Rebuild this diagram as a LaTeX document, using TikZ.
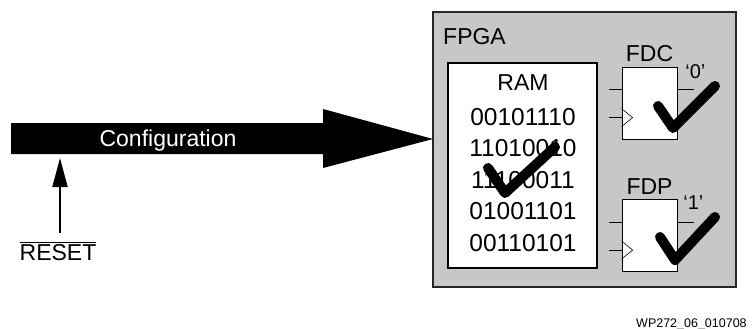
\documentclass[tikz,border=0pt]{standalone}
\usepackage{fontspec}
\setmainfont{Liberation Sans}
\usetikzlibrary{arrows.meta,positioning}

\begin{document}
\begin{tikzpicture}[x=1pt,y=-1pt]
    \tikzstyle{every node}=[font=\fontsize{23}{27}\selectfont, inner sep=0pt]
    \tikzstyle{flipflop}=[draw, fill=white, line width=0.8pt, minimum width=55pt, minimum height=72pt]
    \tikzstyle{pin}=[line width=0.6pt]
    \tikzstyle{tick}=[line width=10pt, line cap=round, line join=round]
    \tikzstyle{quote}=[font=\fontsize{20}{24}\selectfont]
    \useasboundingbox (0,0) rectangle (752,329);

    % FPGA and RAM
    \node[draw=black!85, fill=black!22, line width=2pt, minimum width=303pt, minimum height=275pt] (fpga) at (584.5,149.5) {};
    \node[anchor=west] (fpgalbl) at (443,37) {FPGA};
    \node[draw, fill=white, line width=2pt, minimum width=149pt, minimum height=205pt] (ram) at (522.5,165.5) {};
    \node (ramlbl) at (523,83) {RAM};
    \foreach \bits [count=\i] in {00101110,11010010,11100011,01001101,00110101}
        \node (bits\i) at (523,85.5+31.5*\i) {\fontsize{24.5}{28}\selectfont\bits};

    % flip-flops
    \node[flipflop] (fdc) at (649.5,103) {};
    \node[flipflop] (fdp) at (649.5,235.5) {};
    \foreach \ff in {fdc,fdp} {
        \draw[pin] ([yshift=-23pt]\ff.north west) -- ++(-13,0);
        \draw[pin] ([yshift=-51pt]\ff.north west) -- ++(-13,0);
        \draw[pin] ([yshift=-23pt]\ff.north east) -- ++(17,0);
        \draw[pin] ([yshift=-42pt]\ff.north west) -- ++(11,9) -- ++(-11,9);
    }
    \node[above=5pt of fdc] (fdclbl) {FDC};
    \node[above=4pt of fdp] (fdplbl) {FDP};
    \node[quote] (zero) at ([xshift=18pt,yshift=-5pt]fdc.north east) {`0'};
    \node[quote] (one) at ([xshift=16pt,yshift=-4pt]fdp.north east) {`1'};

    % configuration arrow
    \coordinate (tip) at (433,139);
    \fill (11,123) -- (323,123) -- (323,109) -- (tip) -- (323,168) -- (323,154) -- (11,154) -- cycle;
    \node[anchor=base, text=white] (config) at (168,146.7) {Configuration};
    \coordinate (shaftbot) at (60,154);

    \node[anchor=base] (reset) at (58,260) {$\overline{\mbox{RESET}}$};
    \draw[line width=2pt, -{Triangle[length=29pt,width=15pt]}, shorten >=4pt] ([xshift=2pt,yshift=9pt]reset.north) -- (shaftbot);

    % checks
    \draw[tick] (488,168) -- (505,193) -- (555,147);
    \draw[tick] (658,106) -- (673,128) -- (715,86);
    \draw[tick] (660,237) -- (675,260) -- (715,217);

    \node[anchor=base west, font=\fontsize{12.5}{15}\selectfont] (wp) at (636,327) {WP272\_06\_010708};
\end{tikzpicture}
\end{document}
